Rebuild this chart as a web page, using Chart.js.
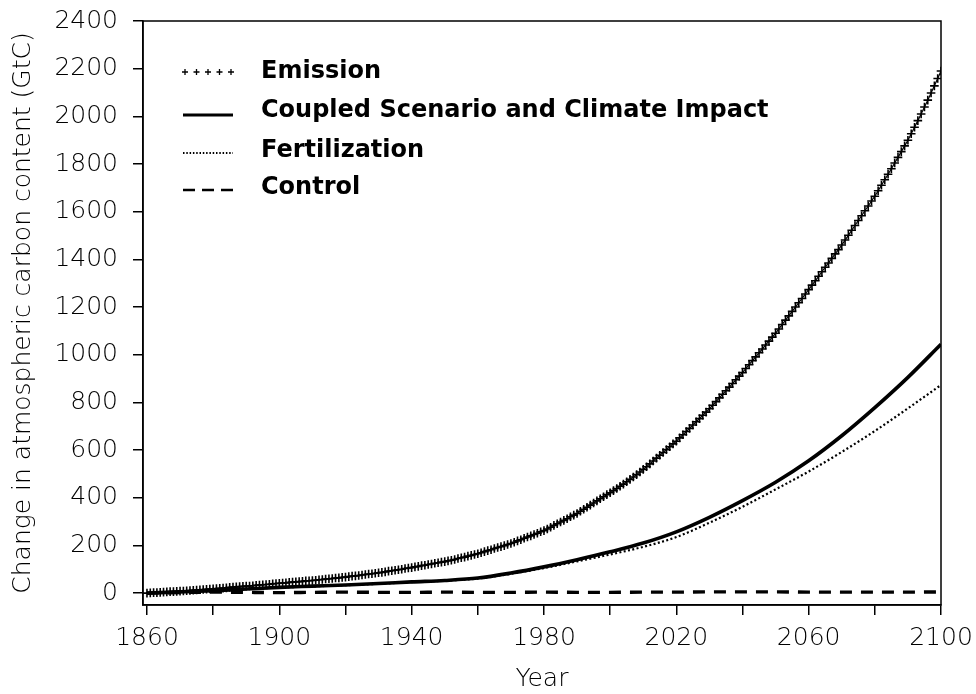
<!DOCTYPE html>
<html>
<head>
<meta charset="utf-8">
<script src="https://cdn.jsdelivr.net/npm/chart.js@4.4.0/dist/chart.umd.min.js"></script>
<style>
  body { margin: 0; background: #fff; }
</style>
</head>
<body>
<canvas id="carbonChart" width="976" height="694"></canvas>
<script>
// cumulative emission, one value per year 1860..2100 (GtC)
const emissionStart = 1860;
const emission = [
  0, 1, 2, 2, 3, 4, 5, 6, 6, 7, 8,
  9, 10, 11, 12, 13, 14, 15, 16, 17, 18,
  19, 20, 21, 22, 24, 25, 26, 27, 28, 29,
  30, 31, 33, 34, 35, 36, 37, 39, 40, 41,
  42, 43, 45, 46, 47, 48, 49, 51, 52, 53,
  54, 56, 57, 59, 60, 61, 63, 64, 66, 67,
  69, 71, 72, 74, 76, 78, 80, 81, 83, 85,
  87, 89, 92, 94, 96, 98, 100, 103, 105, 107,
  110, 112, 115, 117, 120, 122, 125, 127, 130, 132,
  135, 138, 141, 145, 148, 151, 155, 158, 162, 165,
  169, 174, 178, 182, 187, 191, 195, 199, 204, 208,
  213, 219, 224, 230, 235, 240, 246, 251, 257, 262,
  269, 276, 284, 291, 298, 305, 312, 320, 327, 334,
  343, 352, 360, 369, 378, 387, 396, 404, 413, 421,
  430, 439, 448, 457, 467, 477, 487, 497, 508, 519,
  530, 542, 554, 566, 578, 590, 602, 614, 626, 637,
  651, 664, 678, 691, 705, 719, 732, 746, 759, 773,
  788, 803, 819, 834, 849, 864, 879, 895, 910, 925,
  942, 958, 975, 991, 1008, 1024, 1041, 1057, 1074, 1090,
  1108, 1127, 1145, 1163, 1182, 1200, 1218, 1236, 1255, 1273,
  1292, 1310, 1329, 1348, 1367, 1385, 1404, 1423, 1441, 1460,
  1481, 1501, 1522, 1542, 1563, 1583, 1604, 1624, 1645, 1665,
  1688, 1711, 1734, 1757, 1780, 1804, 1828, 1852, 1876, 1900,
  1927, 1954, 1982, 2010, 2039, 2068, 2098, 2128, 2159, 2190
];
const emissionYears = emission.map((_, i) => emissionStart + i);

// other runs, every 10 years
const decadeYears = [1860, 1870, 1880, 1890, 1900, 1910, 1920, 1930, 1940, 1950, 1960, 1970, 1980,
                     1990, 2000, 2010, 2020, 2030, 2040, 2050, 2060, 2070, 2080, 2090, 2100];
const coupled = [0, 5, 10, 17, 24, 29, 34, 40, 47, 53, 63, 84, 110,
                 140, 173, 210, 257, 318, 388, 465, 555, 660, 778, 905, 1044];
const fertilization = [0, 5, 10, 17, 23, 28, 33, 39, 46, 52, 61, 81, 105,
                       133, 162, 194, 235, 295, 362, 435, 510, 592, 680, 775, 873];
const control = [0, 2, 4, 3, 2, 3, 4, 3, 3, 4, 3, 3, 4,
                 3, 3, 4, 4, 5, 5, 5, 4, 4, 4, 4, 5];

const xTicks = [1860, 1880, 1900, 1920, 1940, 1960, 1980, 2000, 2020, 2040, 2060, 2080, 2100];
const xLabels = [1860, 1900, 1940, 1980, 2020, 2060, 2100];
const yTicks = [0, 200, 400, 600, 800, 1000, 1200, 1400, 1600, 1800, 2000, 2200, 2400];

const toPoints = (xs, ys) => xs.map((x, i) => ({ x: x, y: ys[i] }));

const axisFont = { family: 'DejaVu Sans', size: 25, weight: 200 };
const legendFont = 'bold 24px "DejaVu Sans"';

// box round the plot
const framePlugin = {
  id: 'frame',
  afterDraw(chart) {
    const a = chart.chartArea;
    const ctx = chart.ctx;
    ctx.save();
    ctx.strokeStyle = '#000';
    ctx.lineWidth = 1.5;
    ctx.strokeRect(a.left, a.top, a.right - a.left, a.bottom - a.top);
    ctx.restore();
  }
};

// legend in the top left corner of the plot
const legendPlugin = {
  id: 'innerLegend',
  afterDraw(chart) {
    const ctx = chart.ctx;
    const rows = [72, 111, 151, 188];
    const sx0 = 183, sx1 = 233, tx = 261;
    ctx.save();
    chart.data.datasets.forEach((ds, i) => {
      const y = rows[i];
      ctx.strokeStyle = '#000';
      if (ds.pointStyle === 'cross') {
        ctx.lineWidth = 1.3;
        for (let k = 0; k < 5; k++) {
          const cx = sx0 + 2 + k * 11.5;
          ctx.beginPath();
          ctx.moveTo(cx - 3, y); ctx.lineTo(cx + 3, y);
          ctx.moveTo(cx, y - 3); ctx.lineTo(cx, y + 3);
          ctx.stroke();
        }
      } else {
        ctx.lineWidth = ds.legendWidth || ds.borderWidth;
        ctx.setLineDash(ds.legendDash || []);
        ctx.beginPath();
        ctx.moveTo(sx0, y + (i === 1 ? 4 : 2));
        ctx.lineTo(sx1, y + (i === 1 ? 4 : 2));
        ctx.stroke();
        ctx.setLineDash([]);
      }
      ctx.fillStyle = '#000';
      ctx.font = legendFont;
      ctx.textBaseline = 'middle';
      ctx.textAlign = 'left';
      ctx.fillText(ds.label, tx, y);
    });
    ctx.restore();
  }
};

const ctx = document.getElementById('carbonChart').getContext('2d');

new Chart(ctx, {
  type: 'line',
  data: {
    datasets: [
      {
        label: 'Emission',
        data: toPoints(emissionYears, emission),
        borderColor: '#000',
        borderWidth: 1.2,
        pointStyle: 'cross',
        pointRadius: 4.3,
        pointBorderWidth: 1.6,
        pointBorderColor: '#000',
        tension: 0
      },
      {
        label: 'Coupled Scenario and Climate Impact',
        data: toPoints(decadeYears, coupled),
        borderColor: '#000',
        borderWidth: 3.6,
        legendWidth: 3,
        pointRadius: 0,
        cubicInterpolationMode: 'monotone'
      },
      {
        label: 'Fertilization',
        data: toPoints(decadeYears, fertilization),
        borderColor: '#000',
        borderWidth: 2.2,
        borderDash: [2, 2.4],
        legendDash: [1.5, 1.8],
        legendWidth: 1.8,
        pointRadius: 0,
        cubicInterpolationMode: 'monotone'
      },
      {
        label: 'Control',
        data: toPoints(decadeYears, control),
        borderColor: '#000',
        borderWidth: 3.4,
        borderDash: [12, 9],
        legendDash: [12, 7],
        legendWidth: 2.5,
        pointRadius: 0,
        cubicInterpolationMode: 'monotone'
      }
    ]
  },
  options: {
    responsive: false,
    animation: false,
    layout: { padding: { top: 21, right: 35, bottom: 0, left: 0 } },
    plugins: {
      legend: { display: false },
      tooltip: { enabled: false }
    },
    scales: {
      x: {
        type: 'linear',
        min: 1858.8,
        max: 2100,
        afterBuildTicks: s => { s.ticks = xTicks.map(v => ({ value: v })); },
        afterFit: s => { s.height = 89; s.paddingLeft = 0; s.paddingRight = 0; },
        ticks: {
          autoSkip: false,
          maxRotation: 0,
          padding: 8,
          color: '#000',
          font: axisFont,
          callback: v => xLabels.includes(v) ? String(v) : ''
        },
        grid: { drawOnChartArea: false, drawTicks: true, tickLength: 10, color: '#000', lineWidth: 1.5 },
        border: { display: true, color: '#000', width: 1.5 },
        title: { display: true, text: 'Year', color: '#000', font: axisFont, padding: { top: 0, bottom: 0 } }
      },
      y: {
        min: -50,
        max: 2400,
        afterBuildTicks: s => { s.ticks = yTicks.map(v => ({ value: v })); },
        afterFit: s => { s.width = 143; s.paddingTop = 0; s.paddingBottom = 0; },
        ticks: {
          padding: 15,
          color: '#000',
          font: axisFont,
          callback: v => String(v)
        },
        grid: { drawOnChartArea: false, drawTicks: true, tickLength: 10, color: '#000', lineWidth: 1.5 },
        border: { display: true, color: '#000', width: 1.5 },
        title: {
          display: true,
          text: 'Change in atmospheric carbon content (GtC)',
          color: '#000',
          font: axisFont,
          padding: { top: 8, bottom: 0 }
        }
      }
    }
  },
  plugins: [framePlugin, legendPlugin]
});
</script>
</body>
</html>
